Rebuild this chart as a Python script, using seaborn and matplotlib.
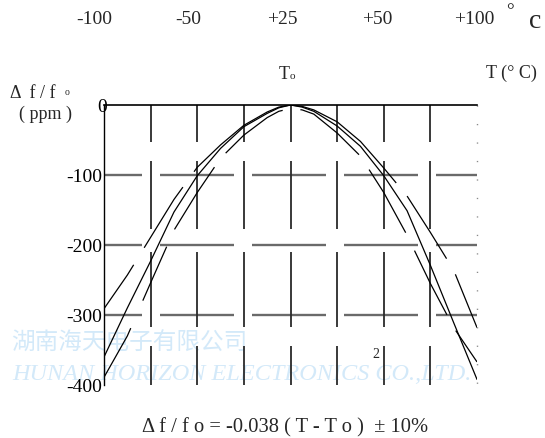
import numpy as np
import pandas as pd
import matplotlib
matplotlib.use("Agg")
import matplotlib.pyplot as plt
import seaborn as sns

# ---------------- data ----------------
grid_u = [-4, -3.5, -3, -2.5, -2, -1.5, -1, -0.5, -0.25, 0, 0.25, 0.5, 1, 1.5, 2, 2.5, 3, 3.5, 4]
upper_ppm = [-291, -243, -189, -135, -89, -57, -29, -10, -3, 0, -2, -7, -24, -52, -90, -130, -182, -236, -318]
middle_ppm = [-360, -290, -223, -153, -101, -62, -31, -12, -4, 0, -3, -9, -30, -59, -101, -151, -229, -311, -392]
lower_ppm = [-389, -330, -254, -179, -125, -76, -43, -18, -9, -5, -7, -13, -40, -73, -125, -186, -255, -318, -367]

y_ticks = [0, -100, -200, -300, -400]
y_tick_labels = ["0", "-100", "-200", "-300", "-400"]
top_labels = ["-100", "-50", "+25", "+50", "+100"]
grid_x = [-3, -2, -1, 0, 1, 2, 3]
grid_y = [-100, -200, -300]

# ---------------- style ----------------
sns.set_theme(style="white")
plt.rcParams["font.family"] = ["Liberation Serif", "DejaVu Serif"]
plt.rcParams["lines.scale_dashes"] = False
plt.rcParams["axes.unicode_minus"] = False

PX = 0.72  # points per pixel at 100 dpi
W, H = 545, 439


def dash(*px):
    return tuple(v * PX for v in px)


fig = plt.figure(figsize=(W / 100, H / 100), dpi=100)
L, R, T, B = 104, 477, 106, 386
ax = fig.add_axes([L / W, (H - B) / H, (R - L) / W, (B - T) / H])
ax.set_facecolor("none")

for s in ["bottom", "right"]:
    ax.spines[s].set_visible(False)
ax.spines["left"].set_color("black")
ax.spines["left"].set_linewidth(1.0)
ax.spines["top"].set_color("black")
ax.spines["top"].set_linewidth(1.2)

# curves
df = pd.DataFrame({
    "u": grid_u * 3,
    "ppm": upper_ppm + middle_ppm + lower_ppm,
    "curve": ["upper"] * len(grid_u) + ["middle"] * len(grid_u) + ["lower"] * len(grid_u),
})
sns.lineplot(data=df, x="u", y="ppm", hue="curve", style="curve",
             palette=["black", "black", "black"],
             dashes=[dash(53, 20, 72, 19, 255, 17, 74, 18, 80),
                     "",
                     dash(56, 30, 59, 19, 74, 18, 72, 18, 75, 18, 73, 20, 72, 18, 60)],
             estimator=None, sort=False, legend=False, linewidth=0.9, ax=ax, zorder=3)
ax.set_xlabel("")
ax.set_ylabel("")

# broken grid lines, like the scanned original
h_style = (0, dash(38, 18, 74, 18, 74, 18, 74, 18, 74, 18))
for gy in grid_y:
    ax.plot([-4, 4], [gy, gy], color="#6a6a6a", linewidth=1.7, linestyle=h_style, zorder=1)
v_style = (0, dash(37, 19, 68, 23, 75, 19, 40, 10))
for gx in grid_x:
    ax.plot([gx, gx], [0, -400], color="#2a2a2a", linewidth=1.3, linestyle=v_style, zorder=1)
ax.plot([4, 4], [0, -400], color="#8a8a8a", linewidth=1.0,
        linestyle=(0, (0.9, 12.4)), zorder=1, clip_on=False)

# fix the limits after everything is drawn
ax.margins(0)
ax.set_xlim(-4, 4)
ax.set_ylim(-400, 0)
ax.set_autoscale_on(False)

# y ticks
ax.set_yticks(y_ticks, y_tick_labels)
ax.tick_params(axis="y", length=0, pad=1, labelsize=14, colors="black")
ax.get_yticklabels()[0].set_horizontalalignment("center")
ax.set_xticks([])


def ftxt(x, y, s, **kw):
    fig.text(x / W, 1 - y / H, s, **kw)


# top temperature labels
for xp, lab in zip([94.5, 188.5, 282.5, 377, 474.5], top_labels):
    ftxt(xp, 19.5, lab, fontsize=14, ha="center", va="center")
ftxt(510, 12, "°", fontsize=14, ha="center", va="center")
ftxt(535, 21, "c", fontsize=20, ha="center", va="center")

ftxt(290, 79, "T", fontsize=13, ha="right", va="baseline")
ftxt(290, 79, "o", fontsize=8, ha="left", va="baseline")
ftxt(511, 73, "T (° C)", fontsize=13, ha="center", va="center")

ftxt(10, 98, "Δ  f / f", fontsize=13, ha="left", va="baseline")
ftxt(65, 95, "o", fontsize=7, ha="left", va="baseline")
ftxt(19, 114, "( ppm )", fontsize=13, ha="left", va="center")

ftxt(285, 428, "Δ f / f o = -0.038 ( T - T o )  ± 10%", fontsize=14.8, ha="center", va="center")
ftxt(376, 355, "2", fontsize=10, ha="center", va="center")

# watermark
wm = "#d3e9f9"
ftxt(11, 343, "湖南海天电子有限公司", fontsize=17, color=wm, ha="left", va="center",
     family=["Noto Sans CJK SC", "DejaVu Sans"], zorder=-1)
ftxt(12, 375, "HUNAN HORIZON ELECTRONICS CO.,LTD.", fontsize=17.5, color=wm, ha="left",
     va="center", style="italic", zorder=-1)

fig.savefig("out.png", dpi=100)
